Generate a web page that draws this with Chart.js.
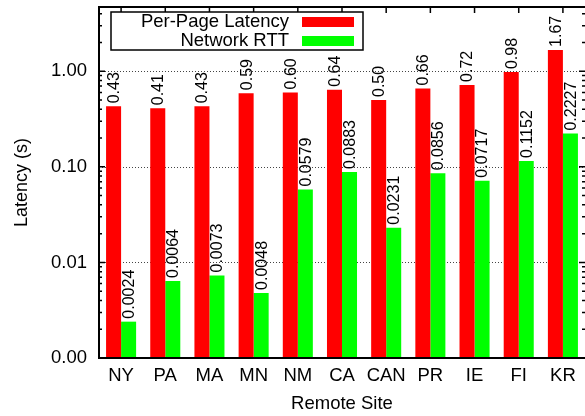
<!DOCTYPE html>
<html>
<head>
<meta charset="utf-8">
<script src="https://cdn.jsdelivr.net/npm/chart.js@4"></script>
<style>
body { margin:0; background:#fff; }
</style>
</head>
<body>
<canvas id="chart" width="585" height="416"></canvas>
<script>
var sites = ['NY','PA','MA','MN','NM','CA','CAN','PR','IE','FI','KR'];
var pageLatency = [0.43,0.41,0.43,0.59,0.60,0.64,0.50,0.66,0.72,0.98,1.67];
var networkRtt = [0.0024,0.0064,0.0073,0.0048,0.0579,0.0883,0.0231,0.0856,0.0717,0.1152,0.2227];
var yTicks = [0.001,0.01,0.1,1];
var yMin = 0.001;
var yMax = 4.7;
var fontFamily = '"Liberation Sans", Arial, sans-serif';
var fontSize = 18.5;

var gridPlugin = {
	id:'dottedGrid',
	beforeDatasetsDraw:function(chart) {
		var ctx = chart.ctx;
		var area = chart.chartArea;
		var y = chart.scales.y;
		ctx.save();
		ctx.strokeStyle = '#444';
		ctx.lineWidth = 1;
		ctx.setLineDash([1,2]);
		yTicks.forEach(function(v) {
			var py = Math.round(y.getPixelForValue(v)) + 0.5;
			ctx.beginPath();
			ctx.moveTo(area.left, py);
			ctx.lineTo(area.right, py);
			ctx.stroke();
		});
		ctx.restore();
	}
};

var framePlugin = {
	id:'frame',
	afterDatasetsDraw:function(chart) {
		var ctx = chart.ctx;
		var area = chart.chartArea;
		var x = chart.scales.x;
		var y = chart.scales.y;
		ctx.save();
		ctx.strokeStyle = '#000';
		ctx.lineWidth = 1.5;
		ctx.beginPath();
		for (var d = -3; d <= 0; d++) {
			for (var m = 1; m < 10; m++) {
				var v = m * Math.pow(10, d);
				if (v < yMin || v > yMax) continue;
				var py = y.getPixelForValue(v);
				var len = m === 1 ? 6 : 3;
				ctx.moveTo(area.left, py);
				ctx.lineTo(area.left + len, py);
				ctx.moveTo(area.right, py);
				ctx.lineTo(area.right - len, py);
			}
		}
		sites.forEach(function(s, i) {
			var px = x.getPixelForValue(i);
			ctx.moveTo(px, area.top);
			ctx.lineTo(px, area.top + 6);
		});
		ctx.stroke();

		ctx.lineWidth = 2;
		ctx.beginPath();
		ctx.moveTo(area.right + 2, area.top);
		ctx.lineTo(area.left, area.top);
		ctx.lineTo(area.left, area.bottom);
		ctx.lineTo(area.right + 2, area.bottom);
		ctx.stroke();
		ctx.restore();
	}
};

var valueLabelPlugin = {
	id:'valueLabels',
	afterDatasetsDraw:function(chart) {
		var ctx = chart.ctx;
		ctx.save();
		ctx.font = '16px ' + fontFamily;
		ctx.fillStyle = '#000';
		ctx.textAlign = 'left';
		ctx.textBaseline = 'middle';
		chart.data.datasets.forEach(function(ds, di) {
			chart.getDatasetMeta(di).data.forEach(function(bar, i) {
				ctx.save();
				ctx.translate(bar.x + 1, bar.y - 3);
				ctx.rotate(-Math.PI / 2);
				ctx.fillText(ds.data[i].toFixed(ds.decimals), 0, 0);
				ctx.restore();
			});
		});
		ctx.restore();
	}
};

var legendPlugin = {
	id:'boxLegend',
	afterDraw:function(chart) {
		var ctx = chart.ctx;
		var area = chart.chartArea;
		var bx = area.left + 12;
		var by = area.top + 5;
		ctx.save();
		ctx.fillStyle = '#fff';
		ctx.fillRect(bx, by, 252, 38);
		ctx.strokeStyle = '#000';
		ctx.lineWidth = 1.5;
		ctx.strokeRect(bx, by, 252, 38);
		ctx.font = fontSize + 'px ' + fontFamily;
		ctx.textAlign = 'right';
		ctx.textBaseline = 'middle';
		chart.data.datasets.forEach(function(ds, i) {
			var ry = by + 10 + i * 19;
			ctx.fillStyle = '#000';
			ctx.fillText(ds.label, bx + 178, ry);
			ctx.fillStyle = ds.backgroundColor;
			ctx.fillRect(bx + 191, ry - 5, 52, 10);
		});
		ctx.restore();
	}
};

var ctx = document.getElementById('chart').getContext('2d');
var chart = new Chart(ctx, {
	type:'bar',
	data:{
		labels:sites,
		datasets:[
			{label:'Per-Page Latency', data:pageLatency, backgroundColor:'#ff0000', decimals:2},
			{label:'Network RTT', data:networkRtt, backgroundColor:'#00ff00', decimals:4}
		]
	},
	options:{
		responsive:false,
		animation:false,
		layout:{padding:{top:7, right:0, bottom:0, left:0}},
		datasets:{bar:{categoryPercentage:0.68, barPercentage:1, borderWidth:0}},
		plugins:{legend:{display:false}, tooltip:{enabled:false}},
		scales:{
			x:{
				grid:{display:false, drawTicks:false},
				border:{display:false},
				ticks:{color:'#000', font:{family:fontFamily, size:fontSize}, padding:7, maxRotation:0, autoSkip:false},
				title:{display:true, text:'Remote Site', color:'#000', font:{family:fontFamily, size:fontSize}, padding:{top:0, bottom:1}},
				afterFit:function(scale) {
					scale.height = 58;
					scale.paddingLeft = 0;
					scale.paddingRight = 0;
				}
			},
			y:{
				type:'logarithmic',
				min:yMin,
				max:yMax,
				grid:{display:false, drawTicks:false},
				border:{display:false},
				afterBuildTicks:function(scale) {
					scale.ticks = yTicks.map(function(v) { return {value:v}; });
				},
				ticks:{
					color:'#000',
					font:{family:fontFamily, size:fontSize},
					padding:12,
					callback:function(v) { return Number(v).toFixed(2); }
				},
				title:{display:true, text:'Latency (s)', color:'#000', font:{family:fontFamily, size:18}, padding:{top:11, bottom:0}},
				afterFit:function(scale) {
					scale.width = 99;
					scale.paddingTop = 0;
					scale.paddingBottom = 0;
				}
			}
		}
	},
	plugins:[gridPlugin, framePlugin, valueLabelPlugin, legendPlugin]
});
</script>
</body>
</html>
